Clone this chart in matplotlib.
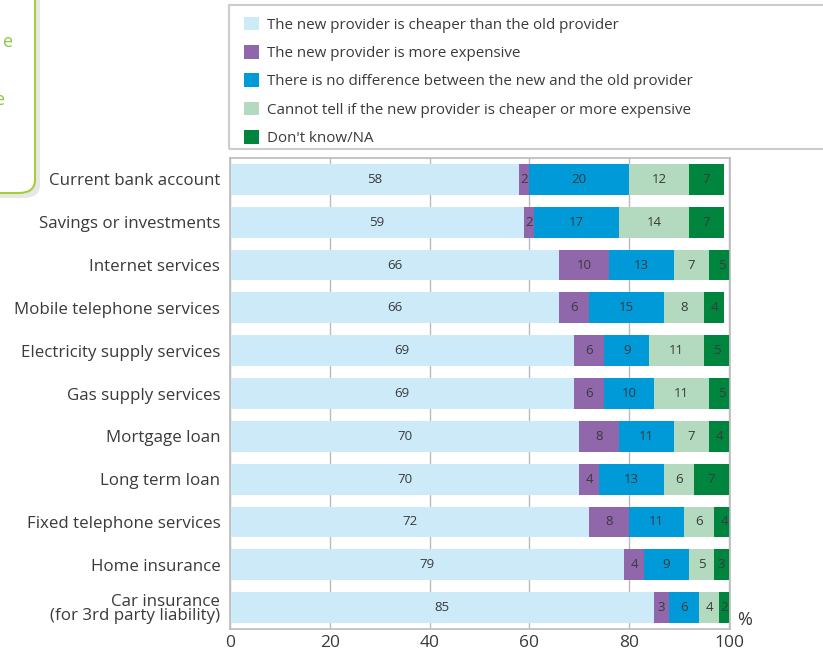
import matplotlib.pyplot as plt
from matplotlib.patches import FancyBboxPatch, Rectangle, Patch

categories = ['Current bank account', 'Savings or investments', 'Internet services',
              'Mobile telephone services', 'Electricity supply services', 'Gas supply services',
              'Mortgage loan', 'Long term loan', 'Fixed telephone services', 'Home insurance',
              'Car insurance\n(for 3rd party liability)']
cheaper = [58, 59, 66, 66, 69, 69, 70, 70, 72, 79, 85]
more_expensive = [2, 2, 10, 6, 6, 6, 8, 4, 8, 4, 3]
no_difference = [20, 17, 13, 15, 9, 10, 11, 13, 11, 9, 6]
cannot_tell = [12, 14, 7, 8, 11, 11, 7, 6, 6, 5, 4]
dont_know = [7, 7, 5, 4, 5, 5, 4, 7, 4, 3, 2]

series_names = ['The new provider is cheaper than the old provider',
                'The new provider is more expensive',
                'There is no difference between the new and the old provider',
                'Cannot tell if the new provider is cheaper or more expensive',
                "Don't know/NA"]
series = [cheaper, more_expensive, no_difference, cannot_tell, dont_know]
colors = ['#cdeaf9', '#8f67aa', '#009ad9', '#b3d9bf', '#00853f']

plt.rcParams['font.family'] = ['Open Sans', 'DejaVu Sans']
txt = '#3a3a3a'
fig = plt.figure(figsize=(8.23, 6.53), dpi=100)
ax = fig.add_axes([230/823, 1-629/653, 500/823, 471/653])

ypos = list(range(len(categories)))
left = [0]*len(categories)
for vals, col in zip(series, colors):
    bars = ax.barh(ypos, vals, left=left, height=0.72, color=col, zorder=2)
    for b, v in zip(bars, vals):
        ax.text(b.get_x() + b.get_width()/2, b.get_y() + b.get_height()/2, str(v),
                ha='center', va='center', fontsize=9.5, color=txt, zorder=3)
    left = [l + v for l, v in zip(left, vals)]

ax.set_xlim(0, 100.2)
ax.set_ylim(10.5, -0.5)
ax.set_yticks(ypos)
ax.set_yticklabels(categories, fontsize=12.2, color=txt, linespacing=0.9)
ax.set_xticks([0, 20, 40, 60, 80, 100])
ax.set_xticklabels(['0', '20', '40', '60', '80', '100'], fontsize=12.5, color=txt)
ax.tick_params(length=0, pad=4)
ax.tick_params(axis='y', pad=7)
ax.xaxis.grid(True, color='#bbbbbb', linewidth=1, zorder=0)
ax.set_axisbelow(True)
for s in ax.spines.values():
    s.set_color('#bbbbbb')
    s.set_linewidth(1.2)
ax.text(1.015, 0.0, '%', transform=ax.transAxes, fontsize=13, color=txt, va='bottom')

# legend box
fig.patches.append(Rectangle((229/823, 1-149/653), 0.8, 144/653, transform=fig.transFigure,
                             fill=False, edgecolor='#cccccc', linewidth=1.5))
handles = [Patch(facecolor=c, edgecolor='none') for c in colors]
fig.legend(handles, series_names, loc='upper left', bbox_to_anchor=(230/823, 1-3/653),
           frameon=False, fontsize=10.9, handlelength=1.0, handleheight=1.0,
           handletextpad=0.55, labelspacing=0.82, labelcolor=txt)

# cropped callout box at top-left
fig.patches.append(FancyBboxPatch((-100/823, 1-198/653), 140/823, 260/653,
                                  boxstyle='round,pad=0,rounding_size=0.02',
                                  transform=fig.transFigure, facecolor='#d8d8d8',
                                  edgecolor='none', zorder=0, alpha=0.6))
fig.patches.append(FancyBboxPatch((-100/823, 1-193/653), 135/823, 260/653,
                                  boxstyle='round,pad=0,rounding_size=0.02',
                                  transform=fig.transFigure, facecolor='white',
                                  edgecolor='#a6ce39', linewidth=1.5, zorder=1))
fig.text(13/823, 1-42/653, 'e', ha='right', va='center', fontsize=13, color='#8dc63f')
fig.text(5/823, 1-100/653, 'e', ha='right', va='center', fontsize=13, color='#8dc63f')

fig.savefig('out.png', dpi=100)
